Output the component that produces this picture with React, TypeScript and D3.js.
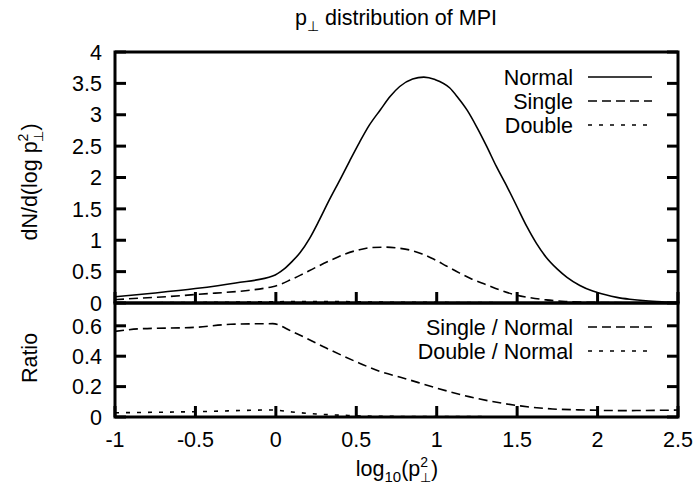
import React from "react";
import * as d3 from "d3";

// ---- data ----
const normalX = [-1, -0.75, -0.5, -0.25, -0.02, 0.05, 0.1, 0.15, 0.21, 0.27, 0.33, 0.4, 0.46, 0.52, 0.58, 0.65, 0.71, 0.77, 0.85, 0.92, 0.99, 1.08, 1.13, 1.19, 1.25, 1.31, 1.37, 1.44, 1.5, 1.56, 1.62, 1.68, 1.75, 1.81, 1.89, 1.97, 2.05, 2.12, 2.2, 2.3, 2.4, 2.5];
const normalY = [0.1, 0.16, 0.23, 0.32, 0.43, 0.54, 0.66, 0.8, 1.03, 1.32, 1.63, 1.97, 2.27, 2.56, 2.83, 3.08, 3.29, 3.45, 3.57, 3.6, 3.56, 3.43, 3.28, 3.07, 2.8, 2.5, 2.18, 1.84, 1.53, 1.22, 0.95, 0.73, 0.54, 0.41, 0.28, 0.19, 0.13, 0.09, 0.06, 0.035, 0.02, 0.01];

const singleX = [-1, -0.5, -0.02, 0.1, 0.15, 0.25, 0.34, 0.43, 0.52, 0.6, 0.68, 0.76, 0.84, 0.91, 0.98, 1.06, 1.14, 1.22, 1.31, 1.4, 1.49, 1.58, 1.68, 1.8, 1.9, 2.05, 2.2, 2.5];
const singleY = [0.055, 0.135, 0.26, 0.38, 0.44, 0.57, 0.68, 0.78, 0.85, 0.885, 0.89, 0.875, 0.84, 0.78, 0.7, 0.59, 0.48, 0.38, 0.29, 0.2, 0.13, 0.085, 0.05, 0.025, 0.015, 0.007, 0.004, 0.001];

const doubleX = [-1, -0.5, -0.02, 0.3, 0.6, 1.0, 1.5, 2.0, 2.5];
const doubleY = [0.003, 0.008, 0.02, 0.025, 0.015, 0.01, 0.004, 0.001, 0];

const ratioSingleX = [-1, -0.85, -0.5, -0.28, -0.02, 0.1, 0.31, 0.52, 0.646, 0.79, 1.0, 1.2, 1.41, 1.52, 1.72, 1.93, 2.14, 2.45, 2.5];
const ratioSingleY = [0.563, 0.58, 0.59, 0.61, 0.614, 0.563, 0.455, 0.354, 0.3, 0.257, 0.19, 0.134, 0.09, 0.073, 0.053, 0.046, 0.042, 0.045, 0.046];

const ratioDoubleX = [-1, -0.5, -0.02, 0.1, 0.25, 0.45, 0.6, 1.0, 1.5, 2.0, 2.5];
const ratioDoubleY = [0.028, 0.035, 0.046, 0.033, 0.02, 0.01, 0.005, 0.003, 0.002, 0.002, 0.002];

const xTicks = [-1, -0.5, 0, 0.5, 1, 1.5, 2, 2.5];
const xTickLabels = ["-1", "-0.5", "0", "0.5", "1", "1.5", "2", "2.5"];
const yTopTicks = [0, 0.5, 1, 1.5, 2, 2.5, 3, 3.5, 4];
const yTopTickLabels = ["0", "0.5", "1", "1.5", "2", "2.5", "3", "3.5", "4"];
const yBotTicks = [0, 0.2, 0.4, 0.6];
const yBotTickLabels = ["0", "0.2", "0.4", "0.6"];

const topLegend = ["Normal", "Single", "Double"];
const botLegend = ["Single / Normal", "Double / Normal"];

// ---- layout ----
const W = 697, H = 487;
const L = 115, R = 678, T = 52, MID = 303, B = 417;
const FONT = "'Liberation Sans', Arial, Helvetica, sans-serif";
const FS = 21.5;
const TICK = 11;
const BW = 3;
const DASH_SINGLE = "9,5";
const DASH_DOUBLE = "4,7";

export default function App() {
  const x = d3.scaleLinear().domain([-1, 2.5]).range([L, R]);
  const yT = d3.scaleLinear().domain([0, 4]).range([MID, T]);
  const yB = d3.scaleLinear().domain([0, 0.75]).range([B, MID]);

  const mk = (xs: number[], ys: number[], ys2: d3.ScaleLinear<number, number>) =>
    d3.line<number>().x((_, i) => x(xs[i])).y((v) => ys2(v)).curve(d3.curveMonotoneX)(ys) || "";

  const curveW = 1.6;

  return (
    <svg width={W} height={H} style={{ position: "absolute", left: 0, top: 0, background: "#fff" }} fontFamily={FONT}>
      <rect x={0} y={0} width={W} height={H} fill="#fff" />
      <defs>
        <clipPath id="cTop"><rect x={L} y={T} width={R - L} height={MID - T} /></clipPath>
        <clipPath id="cBot"><rect x={L} y={MID} width={R - L} height={B - MID} /></clipPath>
      </defs>

      {/* title */}
      <text x={396} y={25} textAnchor="middle" fontSize={FS}>
        p<tspan dy={6} fontSize={14}>⊥</tspan><tspan dy={-6}> distribution of MPI</tspan>
      </text>

      {/* curves top */}
      <g clipPath="url(#cTop)" fill="none" stroke="#000" strokeWidth={curveW}>
        <path d={mk(normalX, normalY, yT)} />
        <path d={mk(singleX, singleY, yT)} strokeDasharray={DASH_SINGLE} />
        <path d={mk(doubleX, doubleY, yT)} strokeDasharray={DASH_DOUBLE} />
      </g>
      {/* curves bottom */}
      <g clipPath="url(#cBot)" fill="none" stroke="#000" strokeWidth={curveW}>
        <path d={mk(ratioSingleX, ratioSingleY, yB)} strokeDasharray={DASH_SINGLE} />
        <path d={mk(ratioDoubleX, ratioDoubleY, yB)} strokeDasharray={DASH_DOUBLE} />
      </g>

      {/* ticks */}
      <g stroke="#000" strokeWidth={BW}>
        {yTopTicks.map((t, i) => (
          <g key={"yt" + i}>
            <line x1={L} x2={L + TICK} y1={yT(t)} y2={yT(t)} />
            <line x1={R} x2={R - TICK} y1={yT(t)} y2={yT(t)} />
          </g>
        ))}
        {yBotTicks.map((t, i) => (
          <g key={"yb" + i}>
            <line x1={L} x2={L + TICK} y1={yB(t)} y2={yB(t)} />
            <line x1={R} x2={R - TICK} y1={yB(t)} y2={yB(t)} />
          </g>
        ))}
        {xTicks.map((t, i) => (
          <g key={"xt" + i}>
            <line x1={x(t)} x2={x(t)} y1={MID} y2={MID - TICK} />
            <line x1={x(t)} x2={x(t)} y1={B} y2={B - TICK} />
          </g>
        ))}
      </g>

      {/* borders */}
      <g fill="none" stroke="#000" strokeWidth={BW}>
        <rect x={L} y={T} width={R - L} height={MID - T} />
        <rect x={L} y={MID} width={R - L} height={B - MID} />
      </g>

      {/* tick labels */}
      <g fontSize={FS} textAnchor="end">
        {yTopTicks.map((t, i) => (
          <text key={"ytl" + i} x={102} y={yT(t)} dy="0.36em">{yTopTickLabels[i]}</text>
        ))}
        {yBotTicks.map((t, i) => (
          <text key={"ybl" + i} x={102} y={yB(t)} dy="0.36em">{yBotTickLabels[i]}</text>
        ))}
      </g>
      <g fontSize={FS} textAnchor="middle">
        {xTicks.map((t, i) => (
          <text key={"xtl" + i} x={x(t)} y={447}>{xTickLabels[i]}</text>
        ))}
      </g>

      {/* axis labels */}
      <text transform="translate(37,182) rotate(-90)" textAnchor="middle" fontSize={FS}>
        dN/d(log p<tspan dy={-9} fontSize={14}>2</tspan><tspan dx={-8} dy={15} fontSize={13}>⊥</tspan><tspan dy={-6}>)</tspan>
      </text>
      <text transform="translate(37,358) rotate(-90)" textAnchor="middle" fontSize={FS}>Ratio</text>
      <text x={397} y={476} textAnchor="middle" fontSize={FS}>
        log<tspan dy={6} fontSize={15}>10</tspan><tspan dy={-6}>(p</tspan><tspan dy={-9} fontSize={14}>2</tspan><tspan dx={-8} dy={15} fontSize={13}>⊥</tspan><tspan dy={-6}>)</tspan>
      </text>

      {/* legends */}
      <g fontSize={FS}>
        {topLegend.map((s, i) => {
          const yy = 77 + i * 24;
          return (
            <g key={"lt" + i}>
              <text x={573} y={yy} dy="0.36em" textAnchor="end">{s}</text>
              <line x1={588} x2={652} y1={yy} y2={yy} stroke="#000" strokeWidth={curveW}
                strokeDasharray={i === 0 ? undefined : i === 1 ? DASH_SINGLE : DASH_DOUBLE} />
            </g>
          );
        })}
        {botLegend.map((s, i) => {
          const yy = 327 + i * 24;
          return (
            <g key={"lb" + i}>
              <text x={573} y={yy} dy="0.36em" textAnchor="end">{s}</text>
              <line x1={588} x2={652} y1={yy} y2={yy} stroke="#000" strokeWidth={curveW}
                strokeDasharray={i === 0 ? DASH_SINGLE : DASH_DOUBLE} />
            </g>
          );
        })}
      </g>
    </svg>
  );
}
